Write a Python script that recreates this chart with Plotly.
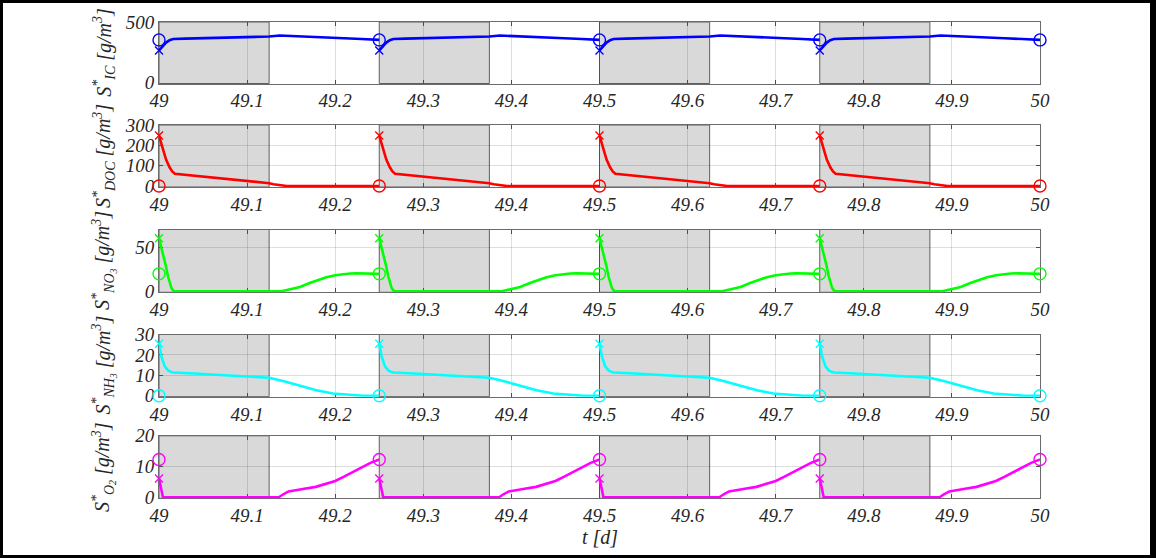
import plotly.graph_objects as go

# ---------------- data ----------------
period_starts = [49.0, 49.25, 49.5, 49.75]
circle_times = [49.0, 49.25, 49.5, 49.75, 50.0]
shade_starts = [49.0, 49.25, 49.5, 49.75]
shade_len = 0.125

# one cycle (time offset within a period, days) for each species
ic_t = [0, 0.004, 0.008, 0.012, 0.016, 0.03, 0.06, 0.09, 0.11, 0.125, 0.137, 0.15, 0.17, 0.19, 0.21, 0.23, 0.25]
ic_v = [265, 300, 330, 350, 360, 363, 367, 372, 376, 380, 388, 385, 378, 372, 366, 359, 352]
ic_circle = [352, 352, 352, 352, 352]
ic_x = [265, 265, 265, 265]

doc_t = [0, 0.004, 0.008, 0.012, 0.015, 0.018, 0.03, 0.05, 0.07, 0.09, 0.11, 0.125, 0.13, 0.135, 0.14, 0.145, 0.25]
doc_v = [248, 185, 130, 92, 72, 60, 55, 46.6, 38, 29.6, 21, 14, 9, 5, 1.5, 0, 0]
doc_circle = [0, 0, 0, 0, 0]
doc_x = [248, 248, 248, 248]

no3_t = [0, 0.0045, 0.0075, 0.0102, 0.012, 0.014, 0.016, 0.018, 0.139, 0.145, 0.152, 0.16, 0.171,
         0.18, 0.19, 0.2, 0.209, 0.217, 0.224, 0.232, 0.239, 0.25]
no3_v = [60, 43, 30, 17, 10, 4, 1, 0, 0, 1.2, 2.7, 5, 9.4, 12.5, 16, 18.3, 19.6, 20.2, 20.4, 20.3, 20.1, 19.8]
no3_circle = [19.8, 19.8, 19.8, 19.8, 19.8]
no3_x = [60, 60, 60, 60]

nh3_t = [0, 0.0027, 0.0065, 0.0103, 0.013, 0.016, 0.04, 0.07, 0.1, 0.125, 0.1407, 0.1597, 0.1786,
         0.1975, 0.2164, 0.2316, 0.25]
nh3_v = [25.5, 19.2, 14.4, 12.4, 11.8, 11.4, 10.9, 10.2, 9.5, 8.8, 7.2, 4.8, 2.7, 1.1, 0.3, 0, 0]
nh3_circle = [0, 0, 0, 0, 0]
nh3_x = [25.5, 25.5, 25.5, 25.5]

o2_t = [0, 0.0015, 0.003, 0.0045, 0.136, 0.141, 0.147, 0.155, 0.165, 0.178, 0.19, 0.2, 0.21,
        0.22, 0.23, 0.24, 0.25]
o2_v = [6.1, 4, 1.5, 0, 0, 1.0, 1.9, 2.4, 2.8, 3.4, 4.3, 5.3, 6.7, 8.2, 9.7, 11.2, 12.3]
o2_circle = [12.3, 12.3, 12.3, 12.3, 12.3]
o2_x = [6.1, 6.1, 6.1, 6.1]

y_labels = [
    "S<sup>*</sup><sub>IC</sub> [g/m<sup>3</sup>]",
    "S<sup>*</sup><sub>DOC</sub> [g/m<sup>3</sup>]",
    "S<sup>*</sup><sub>NO<sub>3</sub></sub> [g/m<sup>3</sup>]",
    "S<sup>*</sup><sub>NH<sub>3</sub></sub> [g/m<sup>3</sup>]",
    "S<sup>*</sup><sub>O<sub>2</sub></sub> [g/m<sup>3</sup>]",
]
y_max = [500, 300, 70, 30, 20]
y_ticks = [[0, 500], [0, 100, 200, 300], [0, 50], [0, 10, 20, 30], [0, 10, 20]]
x_ticks = [49, 49.1, 49.2, 49.3, 49.4, 49.5, 49.6, 49.7, 49.8, 49.9, 50]
x_ticktext = ["49", "49.1", "49.2", "49.3", "49.4", "49.5", "49.6", "49.7", "49.8", "49.9", "50"]
colors = ["#0000FF", "#FF0000", "#00FF00", "#00FFFF", "#FF00FF"]

species = [
    (ic_t, ic_v, ic_circle, ic_x),
    (doc_t, doc_v, doc_circle, doc_x),
    (no3_t, no3_v, no3_circle, no3_x),
    (nh3_t, nh3_v, nh3_circle, nh3_x),
    (o2_t, o2_v, o2_circle, o2_x),
]

# ---------------- layout geometry ----------------
W, H = 1156, 558
x_left, x_right = 159, 1040
rows_px = [(22, 83.5), (125, 187), (229.5, 292.3), (334.5, 396.7), (435.8, 498.3)]
line_pad_px = 1.0  # keeps the full line width visible at zero

font_family = "Liberation Serif"

fig = go.Figure()
layout = dict(
    template="none",
    width=W, height=H, margin=dict(l=0, r=0, t=0, b=0, pad=0), autosize=False,
    paper_bgcolor="white", plot_bgcolor="white", showlegend=False,
    font=dict(family=font_family, size=19, color="#262626"),
)
shapes = []
annotations = []

for i, ((tt, vv, circ, xm), col) in enumerate(zip(species, colors)):
    n = i + 1
    xa = "x" if n == 1 else f"x{n}"
    ya = "y" if n == 1 else f"y{n}"
    xs, ys = [], []
    for s in period_starts:
        for a, b in zip(tt, vv):
            xs.append(s + a)
            ys.append(b)
        xs.append(None)
        ys.append(None)
    fig.add_trace(go.Scatter(x=xs, y=ys, mode="lines", line=dict(color=col, width=2.6),
                             xaxis=xa, yaxis=ya, cliponaxis=False, hoverinfo="skip"))
    fig.add_trace(go.Scatter(x=circle_times, y=circ, mode="markers",
                             marker=dict(symbol="circle-open", size=12, color=col, line=dict(width=1.4)),
                             xaxis=xa, yaxis=ya, cliponaxis=False))
    fig.add_trace(go.Scatter(x=period_starts, y=xm, mode="markers",
                             marker=dict(symbol="x-thin-open", size=8, color=col, line=dict(width=1.4)),
                             xaxis=xa, yaxis=ya, cliponaxis=False))

    top, bot = rows_px[i]
    dom_y = [1 - bot / H, 1 - top / H]
    pad = y_max[i] * line_pad_px / (bot - top)
    axis_common = dict(showline=True, linecolor="#6b6b6b", linewidth=1, mirror="ticks",
                       ticks="inside", ticklen=4, tickcolor="#4d4d4d", tickwidth=1,
                       showgrid=True, gridcolor="rgba(0,0,0,0.13)", gridwidth=1, zeroline=False,
                       automargin=False, layer="below traces",
                       tickfont=dict(family=font_family, size=19, color="#262626", style="italic"))
    layout["xaxis" if n == 1 else f"xaxis{n}"] = dict(
        domain=[x_left / W, x_right / W], anchor=ya, range=[49, 50],
        tickvals=x_ticks, ticktext=x_ticktext, ticklabelstandoff=0, **axis_common)
    layout["yaxis" if n == 1 else f"yaxis{n}"] = dict(
        domain=dom_y, anchor=xa, range=[-pad, y_max[i]], tickvals=y_ticks[i],
        ticktext=[str(v) for v in y_ticks[i]], ticklabelstandoff=0, **axis_common)

    for s in shade_starts:
        shapes.append(dict(type="rect", xref=xa, yref=f"{ya} domain", x0=s, x1=s + shade_len,
                           y0=0, y1=1, fillcolor="#d9d9d9", line=dict(color="#5f5f5f", width=1),
                           layer="below"))
    annotations.append(dict(text=y_labels[i], textangle=-90, xref="paper", yref="paper",
                            x=104 / W, y=1 - (top + bot) / 2 / H, xanchor="center", yanchor="middle",
                            showarrow=False,
                            font=dict(family=font_family, size=20, color="#262626", style="italic")))

annotations.append(dict(text="t [d]", xref="paper", yref="paper", x=(x_left + x_right) / 2 / W,
                        y=1 - 537 / H, xanchor="center", yanchor="middle", showarrow=False,
                        font=dict(family=font_family, size=20, color="#262626", style="italic")))

# black frame around the figure
shapes.append(dict(type="rect", xref="paper", yref="paper", x0=0, x1=1153 / W, y0=0, y1=1,
                   line=dict(color="black", width=6), fillcolor="rgba(0,0,0,0)", layer="above"))

layout["shapes"] = shapes
layout["annotations"] = annotations
fig.update_layout(**layout)
fig.write_html("out.html", config={"displayModeBar": False},
               post_script="document.body.style.margin='0';document.body.style.padding='0';"
                           "document.body.style.overflow='hidden';")
